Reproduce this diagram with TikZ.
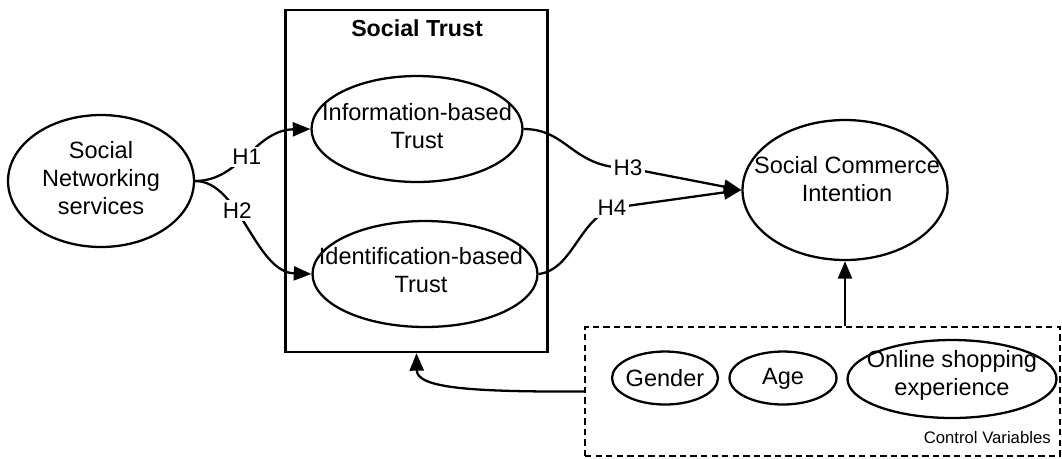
\documentclass[tikz,border=0pt]{standalone}
\usepackage{fontspec}
\setmainfont{Liberation Sans}
\usepackage{tikz}
\usetikzlibrary{shapes.geometric,arrows.meta,positioning,calc}
\tikzset{
  oval/.style={ellipse, draw, line width=1.3pt, inner sep=0pt},
  ovaltext/.style={align=center, inner sep=0pt, font=\fontsize{13.4}{16}\selectfont},
  hlabel/.style={fill=white, inner sep=1.5pt, font=\fontsize{12.8}{15}\selectfont},
  arrow/.style={-{Triangle[length=10pt,width=8pt]}, line width=1.3pt},
  groupbox/.style={rectangle, draw, line width=1.3pt},
  ctrlbox/.style={rectangle, draw, dashed, dash pattern=on 3.6pt off 2.4pt, line width=1.2pt},
}

\begin{document}
\begin{tikzpicture}[x=0.02cm, y=-0.02cm]
  \useasboundingbox (0,0) rectangle (1062,458);

  % Social trust block
  \node[groupbox, minimum width=5.24cm, minimum height=6.84cm] (trustbox) at (416.5,181) {};
  \node[font=\fontsize{13.2}{15}\selectfont\bfseries] (trustlbl) at (417,28) {Social Trust};

  % Constructs
  \node[oval, minimum width=3.72cm, minimum height=2.64cm] (sns) at (101,181) {};
  \node[ovaltext] (snstxt) at (101,178) {Social\\Networking\\services};

  \node[oval, minimum width=4.22cm, minimum height=2.12cm] (info) at (417,129) {};
  \node[ovaltext] (infotxt) at (417,126) {Information-based\\Trust};

  \node[oval, minimum width=4.5cm, minimum height=2.12cm] (ident) at (425,274) {};
  \node[ovaltext] (identtxt) at (421,270) {Identification-based\\Trust};

  \node[oval, minimum width=4.1cm, minimum height=2.8cm] (sci) at (845,190) {};
  \node[ovaltext] (scitxt) at (847,179) {Social Commerce\\Intention};

  % Control variables
  \node[ctrlbox, minimum width=9.5cm, minimum height=2.58cm] (ctrl) at (822.5,391.5) {};
  \node[oval, minimum width=2.12cm, minimum height=1.06cm] (gender) at (665,378) {};
  \node[ovaltext] (gendertxt) at (665,378) {Gender};
  \node[oval, minimum width=2.14cm, minimum height=1.06cm] (age) at (783,378) {};
  \node[ovaltext] (agetxt) at (783,379) {Age};
  \node[oval, minimum width=4.18cm, minimum height=1.56cm] (online) at (952,379) {};
  \node[ovaltext] (onlinetxt) at (952,375) {Online shopping\\experience};
  \node[anchor=east, inner sep=0pt, font=\fontsize{9.5}{11}\selectfont] (ctrllbl) at (1051,438) {Control Variables};

  % Hypotheses
  \coordinate (h3) at (628,168);
  \coordinate (h4) at (612,208);
  \draw[arrow] (sns.east) .. controls (240,181) and (255,130) .. node[hlabel, pos=0.48] (h1lbl) {H1} (info.west);
  \draw[arrow] (sns.east) .. controls (240,181) and (255,272) .. node[hlabel, pos=0.38] (h2lbl) {H2} (ident.west);
  \draw[arrow] (info.east) .. controls (568,129) and (572,168) .. (h3) -- (sci.west);
  \draw[arrow] (ident.east) .. controls (572,270) and (578,222) .. (h4) -- (sci.west);
  \node[hlabel] (h3lbl) at (h3) {H3};
  \node[hlabel] (h4lbl) at (h4) {H4};

  % Control paths
  \draw[arrow] (ctrl.north -| sci.south) -- (sci.south);
  \draw[arrow] (ctrl.west) .. controls (470,392) and (417,388) .. (trustbox.south);
\end{tikzpicture}
\end{document}
